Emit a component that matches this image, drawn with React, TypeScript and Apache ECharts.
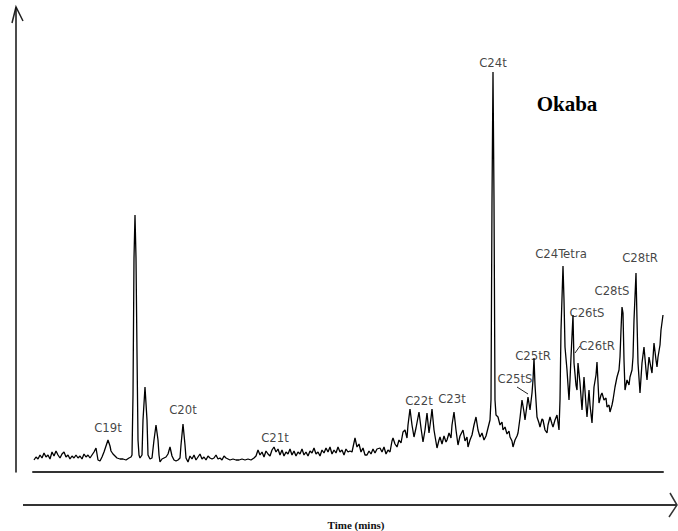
import { useEffect, useRef } from "react";
import * as echarts from "echarts";

// Chromatogram trace: scan number vs. abundance
const scans = [
  34, 36, 38, 40, 42, 44, 46, 48, 50, 52, 54, 56, 58, 60, 62, 64, 66, 68, 70, 72, 74, 76, 78, 80, 82, 84, 86, 88, 90, 92, 94, 96, 98, 100,
  102, 104, 106, 108, 110, 111, 113, 115, 117, 120, 123, 126, 129, 131, 132, 133, 134, 135, 136, 137, 138, 139, 140, 142, 143, 145, 147, 148, 150,
  152, 154, 156, 158, 159, 160, 162, 164, 166, 168, 170, 172, 174, 176, 178, 180, 181, 183, 185, 186, 188, 190, 192, 194, 196, 198, 200,
  202, 204, 206, 208, 210, 212, 214, 216, 218, 220, 222, 224, 226, 228, 230, 233, 236, 239, 242, 245, 248, 251, 254, 256, 258, 260,
  262, 264, 266, 268, 270, 272, 274, 276, 278, 280, 282, 284, 286, 288, 290, 292, 294, 296, 298, 300, 302, 304, 306, 308, 310, 312,
  314, 316, 318, 320, 322, 324, 326, 328, 330, 332, 334, 336, 338, 340, 342, 344, 346, 348, 350, 352, 355, 357, 359, 361, 363, 365,
  367, 369, 371, 373, 375, 377, 380, 382, 384, 386, 388, 390, 392, 393, 395, 397, 399, 401, 403, 405, 407, 408, 410, 412, 414, 416,
  419, 421, 423, 425, 427, 429, 431, 432, 434, 436, 437, 439, 440, 442, 444, 446, 447, 449, 451, 452, 454, 456, 458, 460, 462, 463,
  465, 467, 468, 470, 472, 474, 476, 478, 480, 482, 484, 486, 487, 489, 490, 491, 492, 493, 494, 495, 496, 498, 500, 502, 503, 505,
  507, 509, 510, 512, 513, 515, 517, 518, 520, 522, 524, 525, 527, 528, 530, 532, 533, 534, 535, 537, 539, 540, 542, 543, 545, 547,
  548, 550, 552, 553, 555, 557, 559, 560, 561, 563, 564, 565, 567, 569, 570, 571, 573, 574, 576, 577, 578, 580, 582, 584, 586, 587,
  589, 590, 592, 594, 596, 597, 599, 601, 602, 604, 606, 607, 609, 610, 612, 613, 615, 617, 619, 620, 621, 622, 623, 624, 625, 627,
  629, 630, 632, 633, 634, 636, 637, 638, 640, 642, 644, 646, 647, 649, 651, 652, 654, 656, 657, 658, 660, 661, 663,
];

const abundance = [
  12, 15, 13, 17, 14, 19, 15, 17, 13, 20, 16, 21, 17, 14, 18, 20, 15, 17, 13, 16, 14, 17, 14, 16, 13, 18, 15, 17, 14, 17, 20, 24, 12, 11,
  15, 20, 26, 32, 26, 21, 18, 16, 14, 13, 13, 12, 14, 15, 17, 77, 214, 257, 214, 119, 32, 17, 14, 17, 52, 85, 52, 17, 13,
  14, 32, 47, 32, 17, 10, 13, 14, 15, 18, 25, 16, 12, 11, 12, 14, 27, 48, 27, 14, 10, 16, 13, 17, 12, 15, 18,
  13, 15, 12, 16, 14, 13, 14, 17, 13, 14, 12, 16, 14, 13, 12, 13, 12, 12, 13, 12, 13, 12, 14, 16, 22, 17,
  20, 15, 21, 18, 16, 22, 25, 20, 23, 17, 22, 16, 20, 18, 23, 17, 21, 16, 20, 18, 23, 17, 20, 16, 21, 19,
  24, 18, 20, 16, 22, 19, 24, 20, 25, 18, 22, 19, 25, 20, 22, 17, 23, 20, 21, 20, 34, 25, 28, 20, 24, 17,
  17, 21, 18, 23, 19, 23, 24, 20, 25, 18, 22, 20, 31, 34, 28, 25, 32, 29, 40, 42, 34, 47, 63, 47, 35, 44,
  60, 44, 30, 42, 59, 39, 54, 63, 42, 30, 24, 32, 35, 28, 36, 30, 32, 39, 34, 47, 60, 42, 27, 36, 40, 42,
  31, 35, 25, 32, 37, 47, 55, 42, 35, 39, 32, 36, 40, 48, 52, 72, 272, 400, 272, 72, 57, 55, 47, 50, 42, 45,
  38, 41, 35, 31, 25, 32, 36, 39, 54, 72, 60, 52, 67, 75, 62, 79, 92, 114, 87, 55, 49, 45, 53, 52, 42, 39,
  47, 55, 48, 45, 52, 57, 42, 72, 142, 206, 172, 125, 102, 72, 92, 115, 157, 109, 87, 82, 109, 89, 62, 95, 67, 55,
  82, 67, 49, 85, 97, 110, 69, 77, 79, 72, 74, 65, 67, 60, 67, 72, 85, 95, 102, 115, 142, 165, 159, 112, 82, 92,
  87, 95, 102, 115, 152, 199, 152, 109, 79, 109, 125, 102, 92, 115, 104, 99, 129, 112, 105, 115, 127, 142, 157,
];

// Peak annotations (label anchor in scan / abundance units)
const peakNames = ["C19t", "C20t", "C21t", "C22t", "C23t", "C24t", "C25tS", "C25tR", "C24Tetra", "C26tS", "C26tR", "C28tS", "C28tR"];
const peakLabelScans = [108, 183, 275, 419, 452, 493, 515, 533, 561, 587, 597, 612, 640];
const peakLabelHeights = [45, 63, 35, 72, 74, 410, 94, 117, 219, 160, 127, 182, 215];

// Leader lines from labels to peaks
const leaderC25tS = [[517, 85], [528, 78]];
const leaderC26tR = [[575, 119], [580, 126]];

const labelFont = "'Liberation Sans Narrow', 'DejaVu Sans Condensed', 'Arial Narrow', sans-serif";
const serifFont = "'Liberation Serif', 'DejaVu Serif', serif";

export default function App() {
  const ref = useRef<HTMLDivElement>(null);

  useEffect(() => {
    if (!ref.current) return;
    const chart = echarts.init(ref.current, undefined, { renderer: "svg" });

    const trace = scans.map((s, i) => [s, abundance[i]]);
    const labels = peakNames.map((n, i) => ({ name: n, value: [peakLabelScans[i], peakLabelHeights[i]] }));

    chart.setOption({
      animation: false,
      backgroundColor: "#ffffff",
      grid: { left: 33, right: 15, top: 8, bottom: 59 },
      xAxis: {
        type: "value",
        min: 33,
        max: 663,
        axisLine: { show: true, onZero: false, lineStyle: { color: "#333333", width: 2 } },
        axisTick: { show: false },
        axisLabel: { show: false },
        splitLine: { show: false },
      },
      yAxis: {
        type: "value",
        min: 0,
        max: 464,
        offset: 17,
        axisLine: { show: true, lineStyle: { color: "#111111", width: 1.5 } },
        axisTick: { show: false },
        axisLabel: { show: false },
        splitLine: { show: false },
      },
      series: [
        {
          type: "line",
          data: trace,
          showSymbol: false,
          symbol: "none",
          lineStyle: { color: "#000000", width: 1.3 },
          z: 3,
        },
        {
          type: "scatter",
          data: labels,
          symbolSize: 0,
          label: {
            show: true,
            position: "inside",
            formatter: "{b}",
            fontFamily: labelFont,
            fontSize: 13,
            color: "#111111",
          },
          z: 4,
        },
        {
          type: "line",
          data: leaderC25tS,
          showSymbol: false,
          symbol: "none",
          lineStyle: { color: "#222222", width: 1 },
        },
        {
          type: "line",
          data: leaderC26tR,
          showSymbol: false,
          symbol: "none",
          lineStyle: { color: "#222222", width: 1 },
        },
      ],
      graphic: [
        {
          type: "polyline",
          shape: { points: [[12, 23], [16, 7], [23, 21]] },
          style: { stroke: "#222222", lineWidth: 1.5, fill: "none" },
        },
        {
          type: "line",
          shape: { x1: 23, y1: 505, x2: 677, y2: 505 },
          style: { stroke: "#333333", lineWidth: 2 },
        },
        {
          type: "polyline",
          shape: { points: [[670, 493], [677, 505], [669, 517]] },
          style: { stroke: "#333333", lineWidth: 1.5, fill: "none" },
        },
        {
          type: "text",
          x: 356,
          y: 525,
          style: {
            text: "Time (mins)",
            fontFamily: serifFont,
            fontSize: 11,
            fontWeight: "bold",
            fill: "#111111",
            align: "center",
            verticalAlign: "middle",
          },
        },
        {
          type: "text",
          x: 567,
          y: 104,
          style: {
            text: "Okaba",
            fontFamily: serifFont,
            fontSize: 21,
            fontWeight: "bold",
            fill: "#000000",
            align: "center",
            verticalAlign: "middle",
          },
        },
      ],
    });

    return () => chart.dispose();
  }, []);

  return (
    <div
      ref={ref}
      style={{ position: "absolute", left: 0, top: 0, width: 678, height: 531, background: "#ffffff" }}
    />
  );
}
